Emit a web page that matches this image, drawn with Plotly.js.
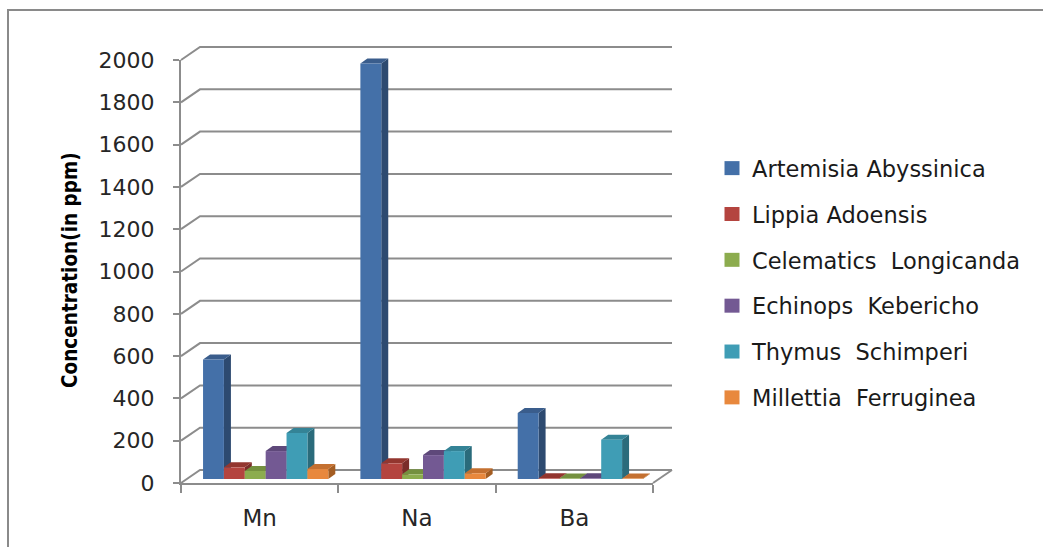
<!DOCTYPE html>
<html>
<head>
<meta charset="utf-8">
<script src="https://cdn.plot.ly/plotly-3.0.1.min.js"></script>
<style>
  html, body { margin: 0; padding: 0; background: #ffffff; }
  #chart { width: 1043px; height: 547px; }
</style>
</head>
<body>
<div id="chart"></div>
<script>
// Element concentrations (ppm) in six medicinal plants
const elements = ['Mn', 'Na', 'Ba'];
const plants = [
  'Artemisia Abyssinica',
  'Lippia Adoensis',
  'Celematics \u00a0Longicanda',
  'Echinops \u00a0Kebericho',
  'Thymus \u00a0Schimperi',
  'Millettia \u00a0Ferruginea'
];
const artemisia  = [565, 1965, 312];
const lippia     = [55, 74, 3];
const celematics = [38, 22, 2];
const echinops   = [132, 113, 3];
const thymus     = [217, 132, 186];
const millettia  = [47, 27, 2];
const yTicks = [0, 200, 400, 600, 800, 1000, 1200, 1400, 1600, 1800, 2000];

const seriesValues = [artemisia, lippia, celematics, echinops, thymus, millettia];
// front face, side face, top face colours
const faceColors = [
  ['#4470a8', '#2d4a70', '#3a5d8c'],
  ['#b4443f', '#7a2c29', '#93362f'],
  ['#8cac4e', '#5d7633', '#74903f'],
  ['#735993', '#4c3a64', '#5e487a'],
  ['#3f9db5', '#2a6b7b', '#348396'],
  ['#e8883d', '#a45d22', '#c47030']
];

// ---- page geometry (pixels) ----
const W = 1043, H = 547;
const yMax = 2000;
const front = {x0: 181, x1: 653, y0: 483, y1: 60};   // front plane of the box
const barShift = {dx: 6, dy: -4};                    // plane the bars stand in
const backShift = {dx: 19, dy: -13};                 // back wall
const barDepth = {dx: 7, dy: -5};                    // bar thickness in depth
const bargap = 0.204;

const px = p => p / W;
const py = p => 1 - p / H;
const frontY = v => front.y0 - v / yMax * (front.y0 - front.y1);

const barPlane = {
  x0: front.x0 + barShift.dx, x1: front.x1 + barShift.dx,
  y0: front.y0 + barShift.dy, y1: front.y1 + barShift.dy
};
const xUnitPx = (barPlane.x1 - barPlane.x0) / elements.length;
const yUnitPx = (barPlane.y0 - barPlane.y1) / yMax;
const depthX = barDepth.dx / xUnitPx;
const depthY = -barDepth.dy / yUnitPx;

const xIdx = elements.map((_, i) => i);

// bar traces (bar plane)
const traces = seriesValues.map((vals, j) => ({
  type: 'bar',
  name: plants[j],
  x: xIdx,
  y: vals,
  xaxis: 'x',
  yaxis: 'y',
  legendgroup: 'g' + j,
  marker: {color: faceColors[j][0], line: {width: 0}},
  hoverinfo: 'skip'
}));
// carrier for the front-plane axes (draws nothing)
traces.push({
  type: 'scatter', mode: 'none',
  x: xIdx, y: artemisia,
  xaxis: 'x2', yaxis: 'y2',
  showlegend: false, hoverinfo: 'skip'
});

const shapes = [];

// gridlines: short slant from the axis to the back wall, then along the wall
const gridColor = '#8c8c8c';
yTicks.forEach(v => {
  const fy = frontY(v);
  const bx0 = front.x0 + backShift.dx;
  const by = fy + backShift.dy;
  const bx1 = front.x1 + backShift.dx;
  shapes.push({
    type: 'path', xref: 'paper', yref: 'paper', layer: 'below',
    path: `M${px(front.x0)},${py(fy)} L${px(bx0)},${py(by)} L${px(bx1)},${py(by)}`,
    line: {color: gridColor, width: 2}
  });
});
// right edge of the floor
shapes.push({
  type: 'line', xref: 'paper', yref: 'paper', layer: 'below',
  x0: px(front.x1), y0: py(front.y0),
  x1: px(front.x1 + backShift.dx), y1: py(front.y0 + backShift.dy),
  line: {color: gridColor, width: 2}
});
// outer chart frame
shapes.push({
  type: 'rect', xref: 'paper', yref: 'paper', layer: 'below',
  x0: px(8), y0: py(10), x1: px(W + 20), y1: py(H + 20),
  line: {color: '#8a8a8a', width: 2}, fillcolor: 'rgba(0,0,0,0)'
});

// side and top faces for every bar
const groupW = 1 - bargap;
const barW = groupW / seriesValues.length;
seriesValues.forEach((vals, j) => {
  vals.forEach((v, i) => {
    const xl = i - groupW / 2 + j * barW;
    const xr = xl + barW;
    shapes.push({
      type: 'path', xref: 'x', yref: 'y', layer: 'below',
      path: `M${xr},0 L${xr + depthX},${depthY} L${xr + depthX},${v + depthY} L${xr},${v} Z`,
      fillcolor: faceColors[j][1], line: {width: 0}
    });
    shapes.push({
      type: 'path', xref: 'x', yref: 'y', layer: 'below',
      path: `M${xl},${v} L${xl + depthX},${v + depthY} L${xr + depthX},${v + depthY} L${xr},${v} Z`,
      fillcolor: faceColors[j][2], line: {width: 0}
    });
  });
});

const tickFont = {family: 'DejaVu Sans, sans-serif', size: 22, color: '#262626'};

const layout = {
  width: W, height: H,
  margin: {l: 0, r: 0, t: 0, b: 0},
  paper_bgcolor: '#ffffff',
  plot_bgcolor: 'rgba(0,0,0,0)',
  barmode: 'group',
  bargap: bargap,
  bargroupgap: 0,
  showlegend: true,
  // bar plane
  xaxis: {
    domain: [px(barPlane.x0), px(barPlane.x1)],
    range: [-0.5, elements.length - 0.5],
    visible: false, fixedrange: true
  },
  yaxis: {
    domain: [py(barPlane.y0), py(barPlane.y1)],
    range: [0, yMax],
    visible: false, fixedrange: true
  },
  // front plane: value axis and category axis
  xaxis2: {
    domain: [px(front.x0), px(front.x1)],
    anchor: 'y2',
    range: [-0.5, elements.length - 0.5],
    tickmode: 'array', tickvals: xIdx, ticktext: elements,
    ticks: '', ticklen: 0,
    tickfont: {family: 'DejaVu Sans, sans-serif', size: 23, color: '#262626'},
    ticklabelstandoff: 13,
    minor: {tickmode: 'linear', tick0: -0.5, dtick: 1, ticks: 'outside', ticklen: 8, tickwidth: 2, tickcolor: gridColor},
    showline: true, linecolor: gridColor, linewidth: 2,
    showgrid: false, zeroline: false, fixedrange: true
  },
  yaxis2: {
    domain: [py(front.y0), py(front.y1)],
    anchor: 'x2',
    range: [0, yMax],
    tickmode: 'array', tickvals: yTicks,
    ticks: 'outside', ticklen: 6, tickwidth: 2, tickcolor: gridColor,
    tickfont: tickFont,
    ticklabelstandoff: 14,
    showline: true, linecolor: gridColor, linewidth: 2,
    showgrid: false, zeroline: false, fixedrange: true
  },
  legend: {
    x: px(712), y: py(147), xanchor: 'left', yanchor: 'top',
    traceorder: 'grouped', tracegroupgap: 13.6,
    font: {family: 'DejaVu Sans, sans-serif', size: 22.5, color: '#1a1a1a'},
    bgcolor: 'rgba(0,0,0,0)', borderwidth: 0,
    itemclick: false, itemdoubleclick: false
  },
  annotations: [{
    text: 'Concentration(in ppm)',
    xref: 'paper', yref: 'paper',
    x: px(56), y: py(270),
    textangle: -90, showarrow: false,
    font: {family: 'DejaVu Sans Condensed, DejaVu Sans, sans-serif', size: 20.5, color: '#000000', weight: 'bold'}
  }],
  shapes: shapes
};

Plotly.newPlot('chart', traces, layout, {displayModeBar: false, staticPlot: true}).then(gd => {
  // larger legend swatches
  gd.querySelectorAll('.legend .legendpoints path').forEach(p => {
    p.setAttribute('d', 'M7.5,7H-7.5V-7H7.5Z');
  });
});
</script>
</body>
</html>
